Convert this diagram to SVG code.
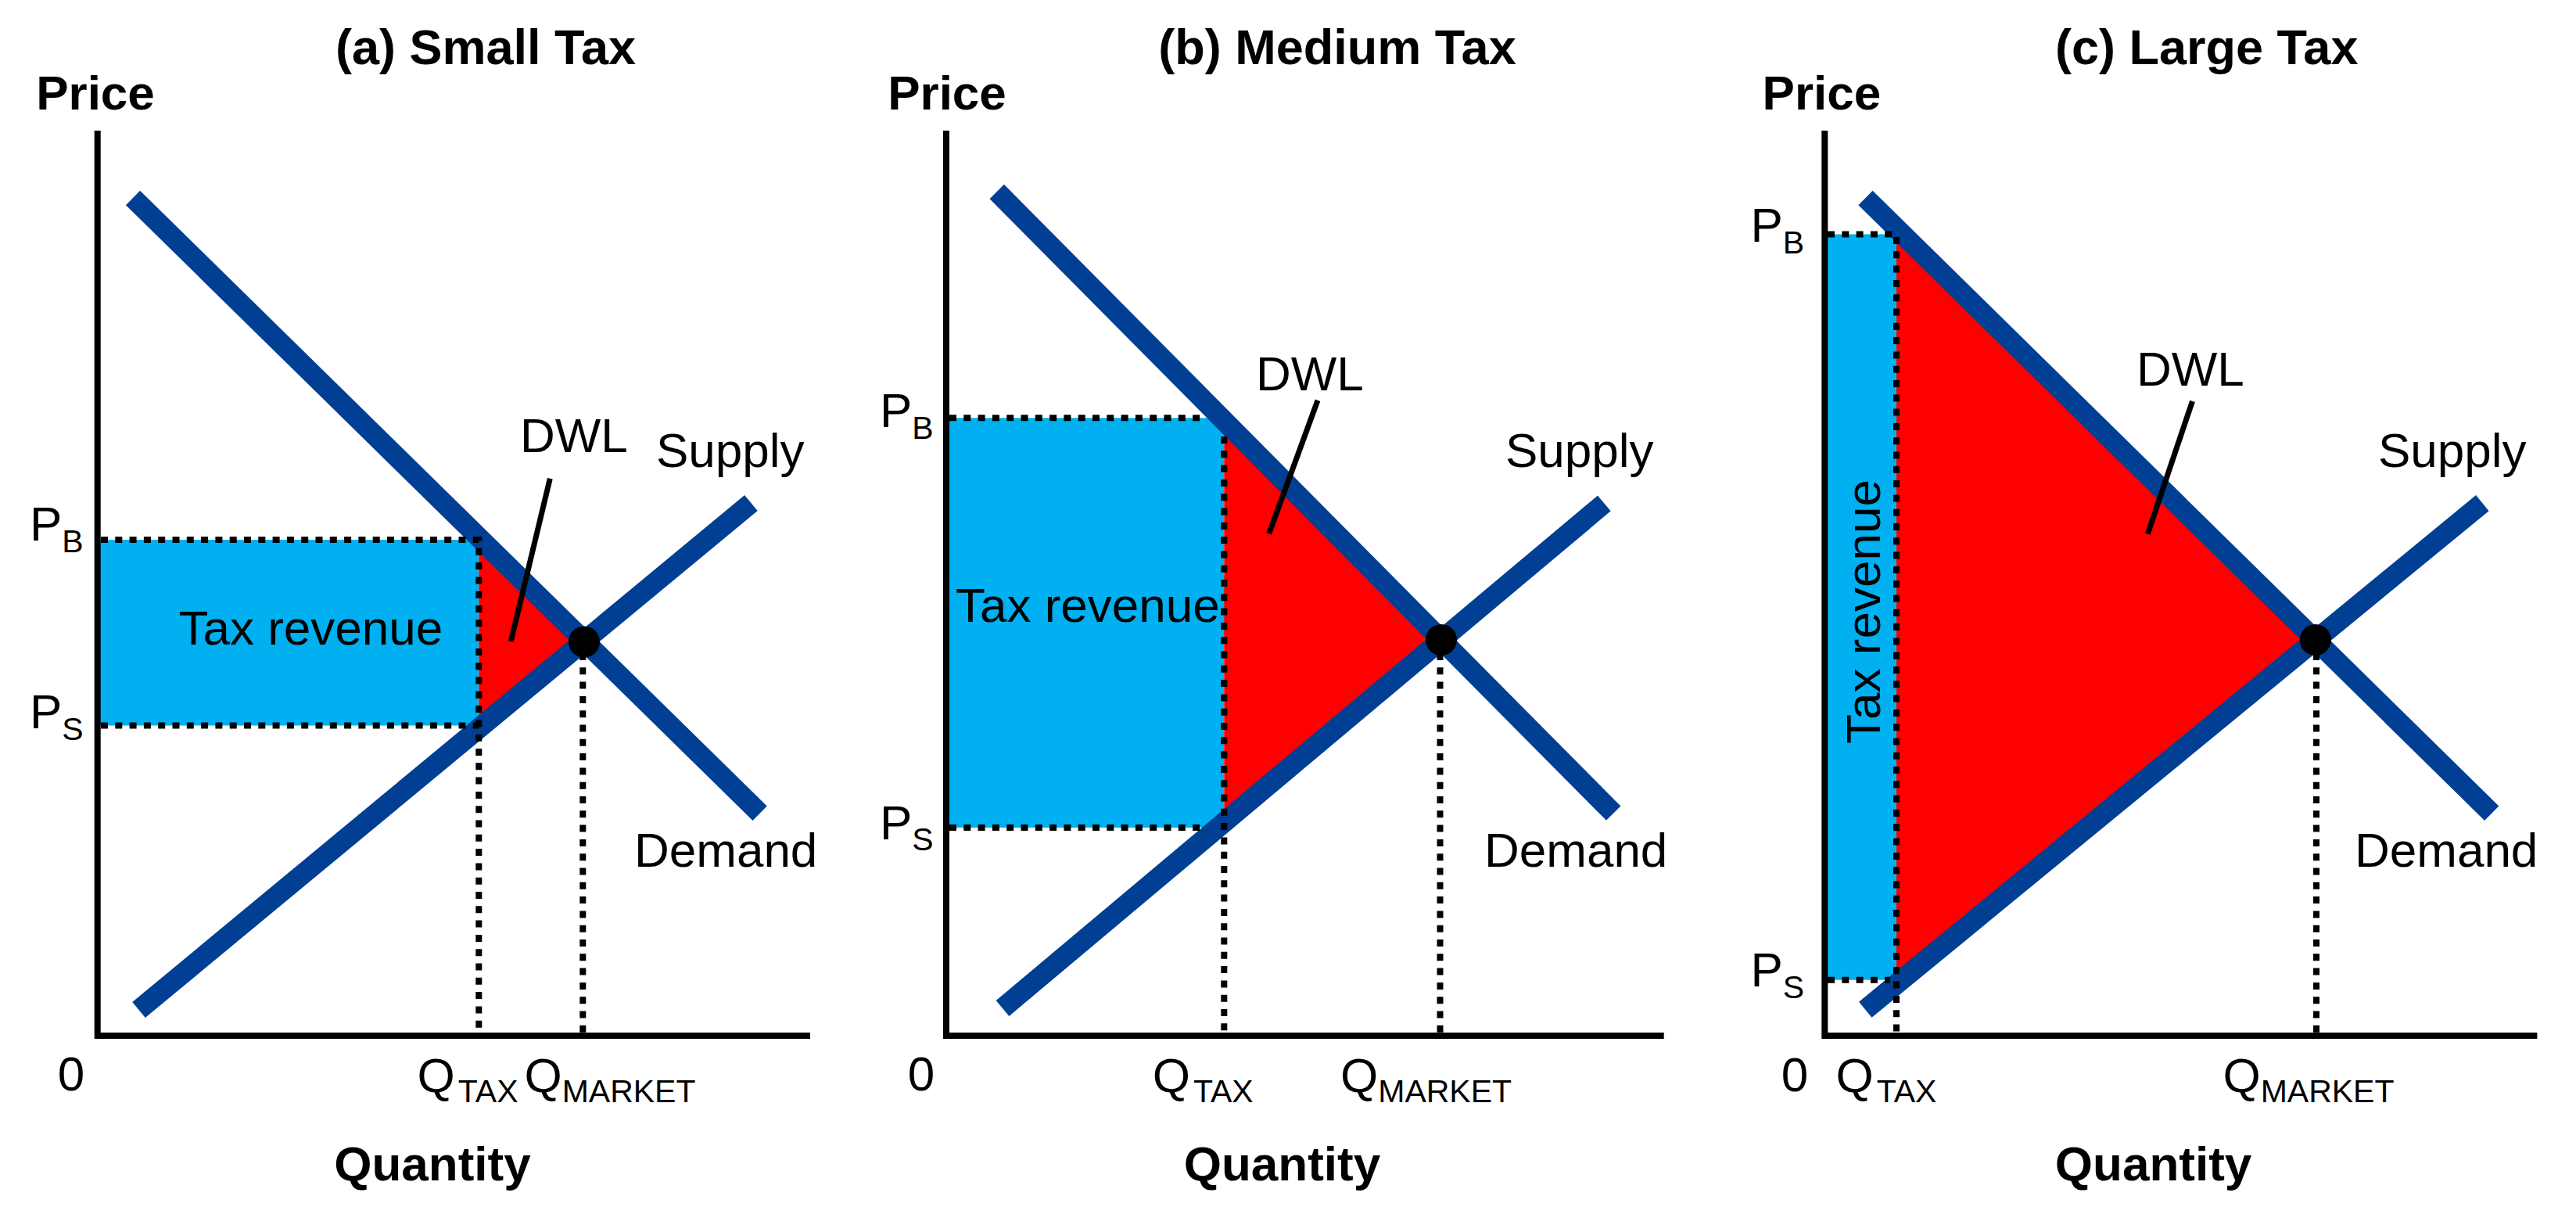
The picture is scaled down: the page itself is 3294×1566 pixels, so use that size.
<svg xmlns="http://www.w3.org/2000/svg" width="3294" height="1566" viewBox="0 0 3294 1566">
<style>
text{font-family:"Liberation Sans",Arial,sans-serif;fill:#000}
.t{font-size:62px}
.b{font-size:62px;font-weight:bold}
.h{font-size:63px;font-weight:bold}
.m{text-anchor:middle}
.sub{font-size:41px}
.ax{fill:none;stroke:#000;stroke-width:8;stroke-linejoin:miter}
.curve{stroke:#003F94;stroke-width:26;stroke-linecap:butt}
.dot{fill:none;stroke:#000;stroke-width:8;stroke-dasharray:9 9.3}
.lead{stroke:#000;stroke-width:7}
.rev{fill:#00B0F0}
.dwl{fill:#FF0000}
</style>
<rect width="3294" height="1566" fill="#fff"/>

<g id="panel-a">
  <rect class="rev" x="124.7" y="690" width="487.6" height="237.5"/>
  <polygon class="dwl" points="612.3,687.3 747,820 612.3,931.1"/>
  <text class="t" x="228.5" y="824">Tax revenue</text>
  <line class="curve" x1="170" y1="253" x2="971.6" y2="1039.7"/>
  <line class="curve" x1="177.5" y1="1291" x2="960.4" y2="643"/>
  <polyline class="dot" points="129,690 612.3,690 612.3,1320"/>
  <line class="dot" x1="129" y1="927.5" x2="612.3" y2="927.5"/>
  <line class="dot" x1="745.3" y1="835" x2="745.3" y2="1320"/>
  <line class="lead" x1="703.3" y1="611.7" x2="653.3" y2="820"/>
  <circle cx="747" cy="820.5" r="20" fill="#000"/>
  <polyline class="ax" points="124.7,167 124.7,1324 1036,1324"/>
  <text class="h m" x="621" y="82">(a) Small Tax</text>
  <text class="b m" x="122" y="140">Price</text>
  <text class="t" x="38" y="691">P<tspan class="sub" dy="15">B</tspan></text>
  <text class="t" x="38" y="931">P<tspan class="sub" dy="15">S</tspan></text>
  <text class="t" x="665" y="577.5">DWL</text>
  <text class="t" x="839" y="597">Supply</text>
  <text class="t" x="811" y="1107.5">Demand</text>
  <text class="t m" x="91" y="1394">0</text>
  <text class="t" x="533.6" y="1396">Q<tspan class="sub" dx="4" dy="12.5">TAX</tspan></text>
  <text class="t" x="670.4" y="1396">Q<tspan class="sub" dy="12.5">MARKET</tspan></text>
  <text class="b m" x="553" y="1509">Quantity</text>
</g>

<g id="panel-b">
  <rect class="rev" x="1210" y="534.3" width="355.3" height="523.7"/>
  <rect class="rev" x="1210" y="736" width="362.7" height="76.7"/>
  <polygon class="dwl" points="1565.3,537.9 1843.3,818.1 1565.3,1051.3"/>
  <text class="t" x="1222" y="795">Tax revenue</text>
  <line class="curve" x1="1274.7" y1="245" x2="2063.2" y2="1039.7"/>
  <line class="curve" x1="1282" y1="1289" x2="2051.3" y2="643.4"/>
  <line class="dot" x1="1214" y1="534.3" x2="1542" y2="534.3"/>
  <line class="dot" x1="1565.3" y1="558" x2="1565.3" y2="1320"/>
  <line class="dot" x1="1214" y1="1058" x2="1538" y2="1058"/>
  <line class="dot" x1="1841.5" y1="835" x2="1841.5" y2="1320"/>
  <line class="lead" x1="1685" y1="511.7" x2="1622.7" y2="682.3"/>
  <circle cx="1843" cy="818" r="20" fill="#000"/>
  <polyline class="ax" points="1210,167 1210,1324 2127.7,1324"/>
  <text class="h m" x="1710" y="82">(b) Medium Tax</text>
  <text class="b m" x="1211" y="140">Price</text>
  <text class="t" x="1125" y="546">P<tspan class="sub" dy="15">B</tspan></text>
  <text class="t" x="1125" y="1073">P<tspan class="sub" dy="14">S</tspan></text>
  <text class="t" x="1606" y="499">DWL</text>
  <text class="t" x="1925" y="597">Supply</text>
  <text class="t" x="1898" y="1107.5">Demand</text>
  <text class="t m" x="1178" y="1394">0</text>
  <text class="t" x="1473.7" y="1396">Q<tspan class="sub" dx="4" dy="12.5">TAX</tspan></text>
  <text class="t" x="1714" y="1396">Q<tspan class="sub" dy="12.5">MARKET</tspan></text>
  <text class="b m" x="1639.5" y="1509">Quantity</text>
</g>

<g id="panel-c">
  <rect class="rev" x="2333.3" y="299.5" width="91.7" height="953.2"/>
  <polygon class="dwl" points="2425,291.8 2960.8,818.2 2425,1258.1"/>
  <text class="t m" transform="translate(2403.7,782) rotate(-90)">Tax revenue</text>
  <line class="curve" x1="2385.5" y1="253" x2="3186.2" y2="1039.7"/>
  <line class="curve" x1="2385.3" y1="1290.7" x2="3174.3" y2="643.1"/>
  <polyline class="dot" points="2337,299.5 2425,299.5 2425,1320"/>
  <line class="dot" x1="2337" y1="1252.7" x2="2417" y2="1252.7"/>
  <line class="dot" x1="2962" y1="835" x2="2962" y2="1320"/>
  <line class="lead" x1="2803.5" y1="512.8" x2="2746.3" y2="682.6"/>
  <circle cx="2960.8" cy="818" r="20" fill="#000"/>
  <polyline class="ax" points="2333.3,167 2333.3,1324 3244.4,1324"/>
  <text class="h m" x="2821.7" y="82">(c) Large Tax</text>
  <text class="b m" x="2329.4" y="140">Price</text>
  <text class="t" x="2238.5" y="308.7">P<tspan class="sub" dy="15">B</tspan></text>
  <text class="t" x="2238.5" y="1261">P<tspan class="sub" dy="15">S</tspan></text>
  <text class="t" x="2732" y="493">DWL</text>
  <text class="t" x="3041" y="597">Supply</text>
  <text class="t" x="3011" y="1107.5">Demand</text>
  <text class="t m" x="2295" y="1395">0</text>
  <text class="t" x="2347.5" y="1396">Q<tspan class="sub" dx="4" dy="12.5">TAX</tspan></text>
  <text class="t" x="2842.4" y="1396">Q<tspan class="sub" dy="12.5">MARKET</tspan></text>
  <text class="b m" x="2753.6" y="1509">Quantity</text>
</g>
</svg>
